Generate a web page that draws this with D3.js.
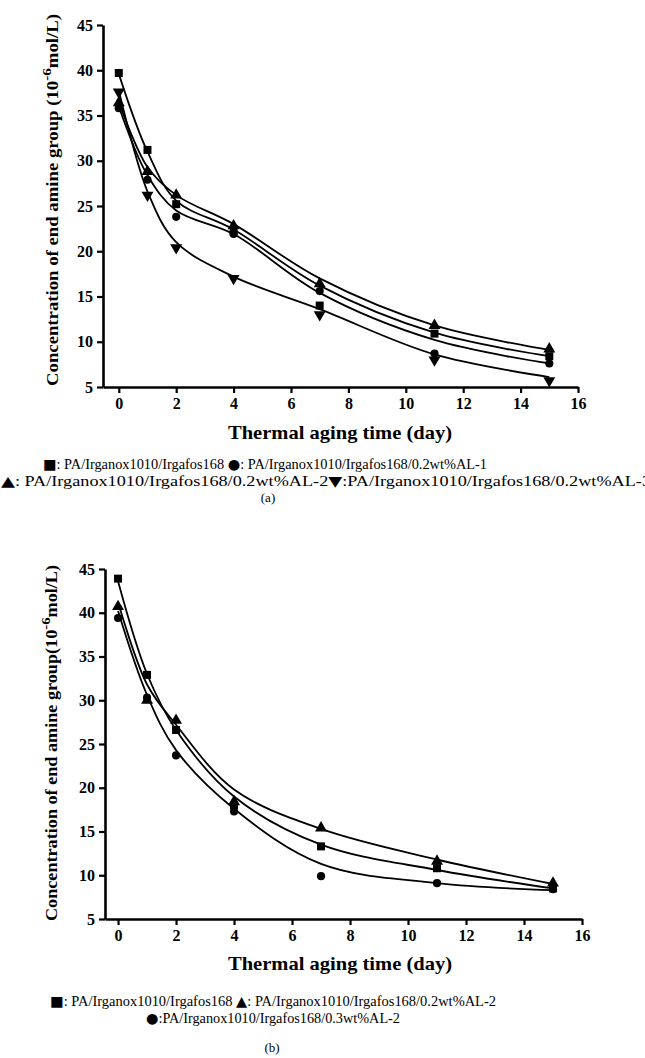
<!DOCTYPE html>
<html>
<head>
<meta charset="utf-8">
<script src="https://cdn.jsdelivr.net/npm/d3@7"></script>
<style>
  body { margin: 0; background: #fff; }
  svg { display: block; }
</style>
</head>
<body>
<svg id="chart" width="645" height="1058"></svg>
<script>
// Data
const days = [0, 1, 2, 4, 7, 11, 15];
const xTicks = [0, 2, 4, 6, 8, 10, 12, 14, 16];
const yTicks = [5, 10, 15, 20, 25, 30, 35, 40, 45];

// panel (a) points
const aSquare = [39.7, 31.2, 25.2, 22.2, 14.0, 10.9, 8.4];
const aCircle = [35.8, 27.9, 23.8, 21.9, 15.6, 8.7, 7.6];
const aTriUp = [36.4, 28.8, 26.2, 22.8, 16.4, 11.8, 9.2];
const aTriDown = [37.6, 26.2, 20.4, 17.0, 13.0, 8.0, 5.7];
// panel (a) fitted curves, read at the same days
const aSquareFit = [39.6, 31.0, 25.6, 22.4, 16.2, 11.0, 8.4];
const aCircleFit = [36.0, 28.4, 24.5, 21.9, 15.4, 10.2, 7.6];
const aTriUpFit = [36.5, 29.3, 26.2, 23.0, 17.0, 11.8, 9.1];
const aTriDownFit = [37.8, 26.6, 21.0, 17.2, 13.6, 8.6, 6.1];

// panel (b) points
const bSquare = [43.9, 32.9, 26.6, 18.0, 13.3, 10.8, 8.5];
const bTriUp = [40.7, 30.0, 27.7, 18.4, 15.4, 11.6, 9.1];
const bCircle = [39.4, 30.3, 23.7, 17.3, 9.9, 9.1, 8.4];
// panel (b) fitted curves, read at the same days
const bSquareFit = [43.6, 33.0, 26.6, 19.0, 13.5, 10.6, 8.5];
const bTriUpFit = [41.2, 31.8, 27.2, 19.8, 15.3, 11.8, 9.0];
const bCircleFit = [40.2, 30.6, 24.3, 17.6, 11.3, 9.1, 8.3];

const svg = d3.select("#chart");

function makeSymbol(type) {
  if (type === "square") return d3.symbol(d3.symbolSquare, 64)();
  if (type === "circle") return d3.symbol(d3.symbolCircle, 52)();
  return d3.symbol(d3.symbolTriangle, 62)();
}

function styleAxis(ax) {
  ax.select(".domain").attr("stroke-width", 2.6);
  ax.selectAll(".tick line").attr("stroke-width", 2.2);
  ax.selectAll("text")
    .attr("font-family", "Liberation Serif, serif")
    .attr("font-weight", "bold")
    .attr("font-size", "16px")
    .attr("fill", "#000");
}

function drawPanel(p) {
  const xScale = d3.scaleLinear().domain([p.xMin, 16]).range([p.left, p.right]);
  const yScale = d3.scaleLinear().domain([5, 45]).range([p.bottom, p.top]);

  const g = svg.append("g");

  // x-axis
  g.append("g")
    .attr("transform", `translate(0, ${p.bottom})`)
    .call(d3.axisBottom(xScale).tickValues(xTicks).tickSizeInner(6).tickSizeOuter(0).tickPadding(5))
    .call(styleAxis);

  // y-axis
  g.append("g")
    .attr("transform", `translate(${p.left}, 0)`)
    .call(d3.axisLeft(yScale).tickValues(yTicks).tickSizeInner(6).tickSizeOuter(0).tickPadding(4))
    .call(styleAxis);

  // curves
  const line = d3.line()
    .x((d, i) => xScale(days[i]))
    .y(d => yScale(d))
    .curve(d3.curveCatmullRom.alpha(0.5));

  p.series.forEach(s => {
    g.append("path")
      .attr("d", line(s.fit))
      .attr("fill", "none")
      .attr("stroke", "#000")
      .attr("stroke-width", 1.8);
  });

  p.series.forEach(s => {
    g.selectAll(null)
      .data(s.values)
      .join("path")
      .attr("d", makeSymbol(s.shape))
      .attr("transform", (d, i) => `translate(${xScale(days[i])}, ${yScale(d)})` + (s.shape === "down" ? " rotate(180)" : ""))
      .attr("fill", "#000");
  });

  // y-axis title
  const yt = g.append("text")
    .attr("transform", `translate(${p.yTitleX}, ${p.yTitleY}) rotate(-90)`)
    .attr("text-anchor", "middle")
    .attr("font-family", "Liberation Serif, serif")
    .attr("font-weight", "bold")
    .attr("font-size", "16px")
    .attr("textLength", p.yTitleLen)
    .attr("lengthAdjust", "spacingAndGlyphs");
  yt.append("tspan").text(p.yTitle);
  yt.append("tspan").attr("dy", -7).attr("font-size", "13px").text("-6");
  yt.append("tspan").attr("dy", 7).text("mol/L)");

  // x-axis title
  g.append("text")
    .attr("x", p.xTitleX)
    .attr("y", p.xTitleY)
    .attr("text-anchor", "middle")
    .attr("font-family", "Liberation Serif, serif")
    .attr("font-weight", "bold")
    .attr("font-size", "19px")
    .attr("textLength", 224)
    .attr("lengthAdjust", "spacingAndGlyphs")
    .text("Thermal aging time (day)");

  // legend lines
  p.legend.forEach(l => {
    const t = g.append("text")
      .attr("x", l.x)
      .attr("y", l.y)
      .attr("font-family", "Liberation Serif, serif")
      .attr("font-size", "14px")
      .attr("textLength", l.w)
      .attr("lengthAdjust", "spacingAndGlyphs");
    l.parts.forEach(part => {
      t.append("tspan")
        .attr("font-family", part.sym ? "DejaVu Sans, sans-serif" : "Liberation Serif, serif")
        .text(part.text);
    });
  });

  g.append("text")
    .attr("x", p.capX)
    .attr("y", p.capY)
    .attr("text-anchor", "middle")
    .attr("font-family", "Liberation Serif, serif")
    .attr("font-size", "13px")
    .text(p.caption);
}

drawPanel({
  xMin: -0.55, left: 103, right: 578, top: 25, bottom: 387,
  yTitle: "Concentration of end amine group (10",
  yTitleX: 58, yTitleY: 200, yTitleLen: 372,
  xTitleX: 340, xTitleY: 439,
  series: [
    {shape: "square", values: aSquare, fit: aSquareFit},
    {shape: "circle", values: aCircle, fit: aCircleFit},
    {shape: "up", values: aTriUp, fit: aTriUpFit},
    {shape: "down", values: aTriDown, fit: aTriDownFit}
  ],
  legend: [
    {x: 43, y: 469, w: 444, parts: [
      {sym: true, text: "\u25A0"}, {text: ": PA/Irganox1010/Irgafos168 "},
      {sym: true, text: "\u25CF"}, {text: ": PA/Irganox1010/Irgafos168/0.2wt%AL-1"}]},
    {x: 1, y: 486, w: 650, parts: [
      {sym: true, text: "\u25B2"}, {text: ": PA/Irganox1010/Irgafos168/0.2wt%AL-2"},
      {sym: true, text: "\u25BC"}, {text: ":PA/Irganox1010/Irgafos168/0.2wt%AL-3"}]}
  ],
  caption: "(a)", capX: 268, capY: 502
});

drawPanel({
  xMin: -0.45, left: 105, right: 582, top: 569, bottom: 919,
  yTitle: "Concentration of end amine group(10",
  yTitleX: 57, yTitleY: 743, yTitleLen: 356,
  xTitleX: 340, xTitleY: 970,
  series: [
    {shape: "square", values: bSquare, fit: bSquareFit},
    {shape: "up", values: bTriUp, fit: bTriUpFit},
    {shape: "circle", values: bCircle, fit: bCircleFit}
  ],
  legend: [
    {x: 50, y: 1006, w: 446, parts: [
      {sym: true, text: "\u25A0"}, {text: ": PA/Irganox1010/Irgafos168 "},
      {sym: true, text: "\u25B2"}, {text: ": PA/Irganox1010/Irgafos168/0.2wt%AL-2"}]},
    {x: 146, y: 1023, w: 254, parts: [
      {sym: true, text: "\u25CF"}, {text: ":PA/Irganox1010/Irgafos168/0.3wt%AL-2"}]}
  ],
  caption: "(b)", capX: 272, capY: 1052
});
</script>
</body>
</html>
